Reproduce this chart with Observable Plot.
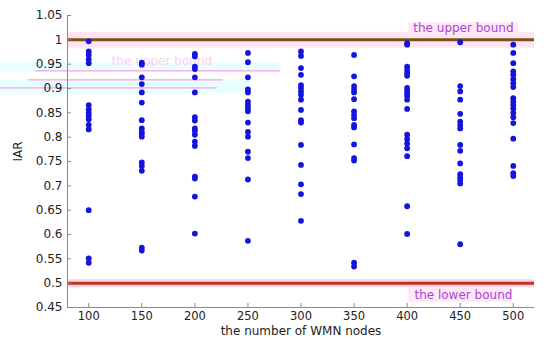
<!DOCTYPE html>
<html>
<head>
<meta charset="utf-8">
<script src="https://cdn.jsdelivr.net/npm/d3@7"></script>
<script src="https://cdn.jsdelivr.net/npm/@observablehq/plot@0.6"></script>
<style>
  html, body { margin: 0; padding: 0; background: #fff; }
  #chart { width: 550px; height: 340px; }
</style>
</head>
<body>
<div id="chart"></div>
<script>
// ---- data ----
const nodeCounts = [100, 150, 200, 250, 300, 350, 400, 450, 500];
const iar100 = [0.997, 0.976, 0.969, 0.960, 0.952, 0.866, 0.857, 0.850, 0.844, 0.837, 0.825, 0.816, 0.650, 0.551, 0.542];
const iar150 = [0.953, 0.949, 0.923, 0.909, 0.892, 0.871, 0.835, 0.818, 0.811, 0.807, 0.801, 0.748, 0.741, 0.731, 0.573, 0.567];
const iar200 = [0.971, 0.966, 0.945, 0.940, 0.923, 0.892, 0.841, 0.834, 0.818, 0.813, 0.805, 0.791, 0.782, 0.719, 0.715, 0.678, 0.602];
const iar250 = [0.973, 0.954, 0.923, 0.898, 0.892, 0.873, 0.866, 0.859, 0.853, 0.830, 0.811, 0.801, 0.770, 0.757, 0.713, 0.587];
const iar300 = [0.976, 0.967, 0.942, 0.928, 0.907, 0.901, 0.894, 0.887, 0.877, 0.856, 0.835, 0.830, 0.784, 0.743, 0.703, 0.683, 0.628];
const iar350 = [0.969, 0.925, 0.905, 0.898, 0.892, 0.878, 0.853, 0.846, 0.839, 0.825, 0.820, 0.785, 0.757, 0.752, 0.542, 0.534];
const iar400 = [0.993, 0.990, 0.945, 0.938, 0.931, 0.926, 0.901, 0.896, 0.890, 0.885, 0.877, 0.858, 0.805, 0.796, 0.787, 0.777, 0.761, 0.658, 0.601];
const iar450 = [0.995, 0.905, 0.894, 0.877, 0.848, 0.832, 0.825, 0.818, 0.784, 0.772, 0.746, 0.724, 0.717, 0.712, 0.705, 0.580];
const iar500 = [0.990, 0.973, 0.952, 0.935, 0.928, 0.919, 0.911, 0.903, 0.880, 0.873, 0.866, 0.859, 0.850, 0.841, 0.829, 0.797, 0.741, 0.726, 0.720];

const xTicks = [100, 150, 200, 250, 300, 350, 400, 450, 500];
const yTicks = [0.45, 0.5, 0.55, 0.6, 0.65, 0.7, 0.75, 0.8, 0.85, 0.9, 0.95, 1, 1.05];
const xLabel = "the number of WMN nodes";
const yLabel = "IAR";

const upperBound = [1];
const lowerBound = [0.5];
const boundLabels = [
  {text: "the upper bound", x: 453, y: 1.0237, x1: 401, x2: 505, y1: 1.0123, y2: 1.035},
  {text: "the lower bound", x: 453, y: 0.4753, x1: 401, x2: 499, y1: 0.461, y2: 0.4897}
];
// faint ghost artefacts visible in the reference (upper-left)
const ghostBands = [
  {x1: 17, x2: 281, y1: 0.9342, y2: 0.9527},
  {x1: 17, x2: 252, y1: 0.8889, y2: 0.9177}
];
const ghostLines = [
  {x1: 50, x2: 281, y: 0.9362},
  {x1: 43, x2: 227, y: 0.9177},
  {x1: 17, x2: 221, y: 0.9012}
];
const ghostText = [{text: "the upper bound", x: 169, y: 0.957}];

// ---- build table ----
const series = [iar100, iar150, iar200, iar250, iar300, iar350, iar400, iar450, iar500];
const points = [];
nodeCounts.forEach((n, i) => series[i].forEach(v => points.push({nodes: n, iar: v})));

const fmt = d => String(+d.toFixed(2));

const chart = Plot.plot({
  width: 550,
  height: 340,
  marginLeft: 67,
  marginRight: 16,
  marginTop: 15,
  marginBottom: 33,
  style: {fontFamily: "DejaVu Sans", fontSize: "12px", color: "#222", background: "#fff"},
  x: {domain: [80, 520]},
  y: {domain: [0.45, 1.05]},
  marks: [
    // ghost artefacts
    Plot.rect(ghostBands, {x1: "x1", x2: "x2", y1: "y1", y2: "y2", fill: "#e8ffff"}),
    Plot.ruleY(ghostLines, {x1: "x1", x2: "x2", y: "y", stroke: "#ff8ae2", strokeWidth: 1}),
    Plot.text(ghostText, {x: "x", y: "y", text: "text", fill: "#ffcdf0", fontSize: 12}),
    // bound bands and lines
    Plot.ruleY(upperBound, {stroke: "#ffe4f3", strokeWidth: 16}),
    Plot.ruleY(lowerBound, {stroke: "#ffd0e6", strokeWidth: 8}),
    Plot.ruleY(upperBound, {stroke: "#7e4f16", strokeWidth: 3}),
    Plot.ruleY(lowerBound, {stroke: "#b8341c", strokeWidth: 3}),
    Plot.rect(boundLabels, {x1: "x1", x2: "x2", y1: "y1", y2: "y2", fill: "#ffe8f6"}),
    Plot.text(boundLabels, {x: "x", y: "y", text: "text", fill: "#a845dc", fontSize: 12}),
    // axes
    Plot.ruleX([80], {y1: 0.45, y2: 1.05, stroke: "#8a8a8a"}),
    Plot.ruleY([0.45], {x1: 80, x2: 520, stroke: "#8a8a8a"}),
    Plot.ruleY(yTicks, {x1: 80, x2: 83.8, stroke: "#8a8a8a"}),
    Plot.ruleX(xTicks, {y1: 0.45, y2: 0.4582, stroke: "#8a8a8a"}),
    Plot.axisY({ticks: yTicks, tickFormat: fmt, tickSize: 0, tickPadding: 5, label: null, fontSize: 12}),
    Plot.axisX({ticks: xTicks, tickFormat: d => String(d), tickSize: 0, tickPadding: 4, label: null, fontSize: 11.5}),
    Plot.text([xLabel], {frameAnchor: "bottom", dy: 27, fontSize: 12, fill: "#222"}),
    Plot.text([yLabel], {frameAnchor: "left", dx: -49, rotate: -90, fontSize: 12, fill: "#222"}),
    // data
    Plot.dot(points, {x: "nodes", y: "iar", r: 2.9, fill: "#1414dc", stroke: "none"})
  ]
});
document.getElementById("chart").appendChild(chart);
</script>
</body>
</html>
